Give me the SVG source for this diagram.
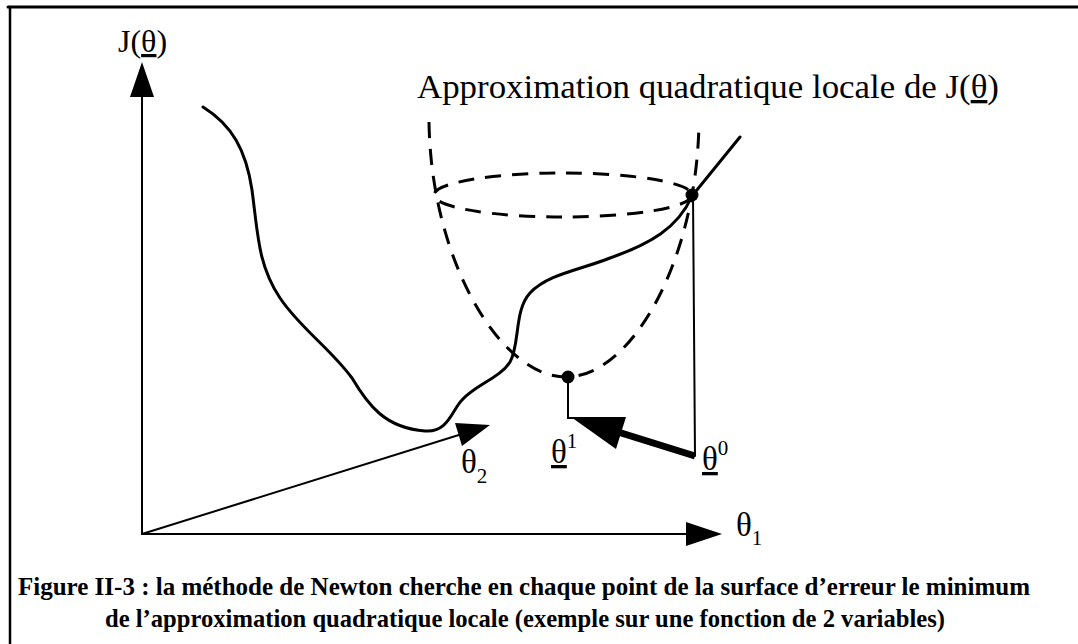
<svg xmlns="http://www.w3.org/2000/svg" width="1078" height="644" viewBox="0 0 1078 644">
<style>
.lbl{font-family:"Liberation Serif","Times New Roman",serif;fill:#000}
.cap{font-family:"Liberation Serif","Times New Roman",serif;font-weight:bold;font-size:26px;fill:#000}
.ln{stroke:#000;fill:none;stroke-linecap:round}
.dash{stroke:#000;fill:none;stroke-width:3;stroke-dasharray:16 11}
</style>
<rect width="1078" height="644" fill="#fff"/>
<g id="frame">
<line class="ln" x1="8" y1="7" x2="1078" y2="7" stroke-width="3"/>
<line class="ln" x1="10" y1="7" x2="10" y2="644" stroke-width="2.5"/>
</g>
<g id="connectors">
<line class="ln" x1="142" y1="534" x2="142" y2="95" stroke-width="2"/>
<polygon points="142,62 130,97 154,97" fill="#000"/>
<line class="ln" x1="142" y1="534" x2="695" y2="534" stroke-width="2"/>
<polygon points="722,534 686,522 686,546" fill="#000"/>
<line class="ln" x1="142" y1="534" x2="462" y2="434" stroke-width="2"/>
<polygon points="490,425 455,423 462,446" fill="#000"/>
<line class="ln" x1="693" y1="195" x2="695" y2="456" stroke-width="2"/>
<polyline class="ln" points="568,377 568,418 575,418" stroke-width="2"/>
<line x1="695" y1="456" x2="618" y2="432" stroke="#000" stroke-width="7"/>
<polygon points="571,417 626,417 616,449" fill="#000"/>
</g>
<g id="surface">
<path class="ln" stroke-width="3" d="M203,107 C232,125 246,150 252,190 C258,235 258,265 280,298 C300,328 330,348 352,378 C368,405 385,428 425,431 C448,433 452,410 462,400 C475,385 500,378 510,362 C520,345 514,310 530,293 C548,274 580,270 610,258 C650,244 678,228 692,196 L740,137"/>
</g>
<g id="approximation">
<path class="dash" d="M429,122 C431,260 500,377 566,377 C632,377 697,260 699,122"/>
<ellipse class="dash" cx="563" cy="195" rx="129" ry="22"/>
</g>
<g id="theta0">
<circle cx="692" cy="195" r="6.5" fill="#000"/>
<text class="lbl" x="702" y="470" font-size="33"><tspan text-decoration="underline">θ</tspan><tspan font-size="21" dy="-15">0</tspan></text>
</g>
<g id="theta1">
<circle cx="568" cy="377" r="6.5" fill="#000"/>
<text class="lbl" x="551" y="463" font-size="33"><tspan text-decoration="underline">θ</tspan><tspan font-size="21" dy="-15">1</tspan></text>
</g>
<g id="labels">
<text class="lbl" x="118" y="52" font-size="32">J(<tspan text-decoration="underline">θ</tspan>)</text>
<text class="lbl" x="417" y="98" font-size="33" textLength="582" lengthAdjust="spacingAndGlyphs">Approximation quadratique locale de J(<tspan text-decoration="underline">θ</tspan>)</text>
<text class="lbl" x="461" y="473" font-size="33">θ<tspan font-size="21" dy="10">2</tspan></text>
<text class="lbl" x="736" y="536" font-size="33">θ<tspan font-size="21" dy="9">1</tspan></text>
</g>
<g id="caption">
<text class="cap" x="18" y="595" textLength="1012" lengthAdjust="spacingAndGlyphs">Figure II-3 : la méthode de Newton cherche en chaque point de la surface d’erreur le minimum</text>
<text class="cap" x="105" y="627" textLength="840" lengthAdjust="spacingAndGlyphs">de l’approximation quadratique locale (exemple sur une fonction de 2 variables)</text>
</g>
</svg>
